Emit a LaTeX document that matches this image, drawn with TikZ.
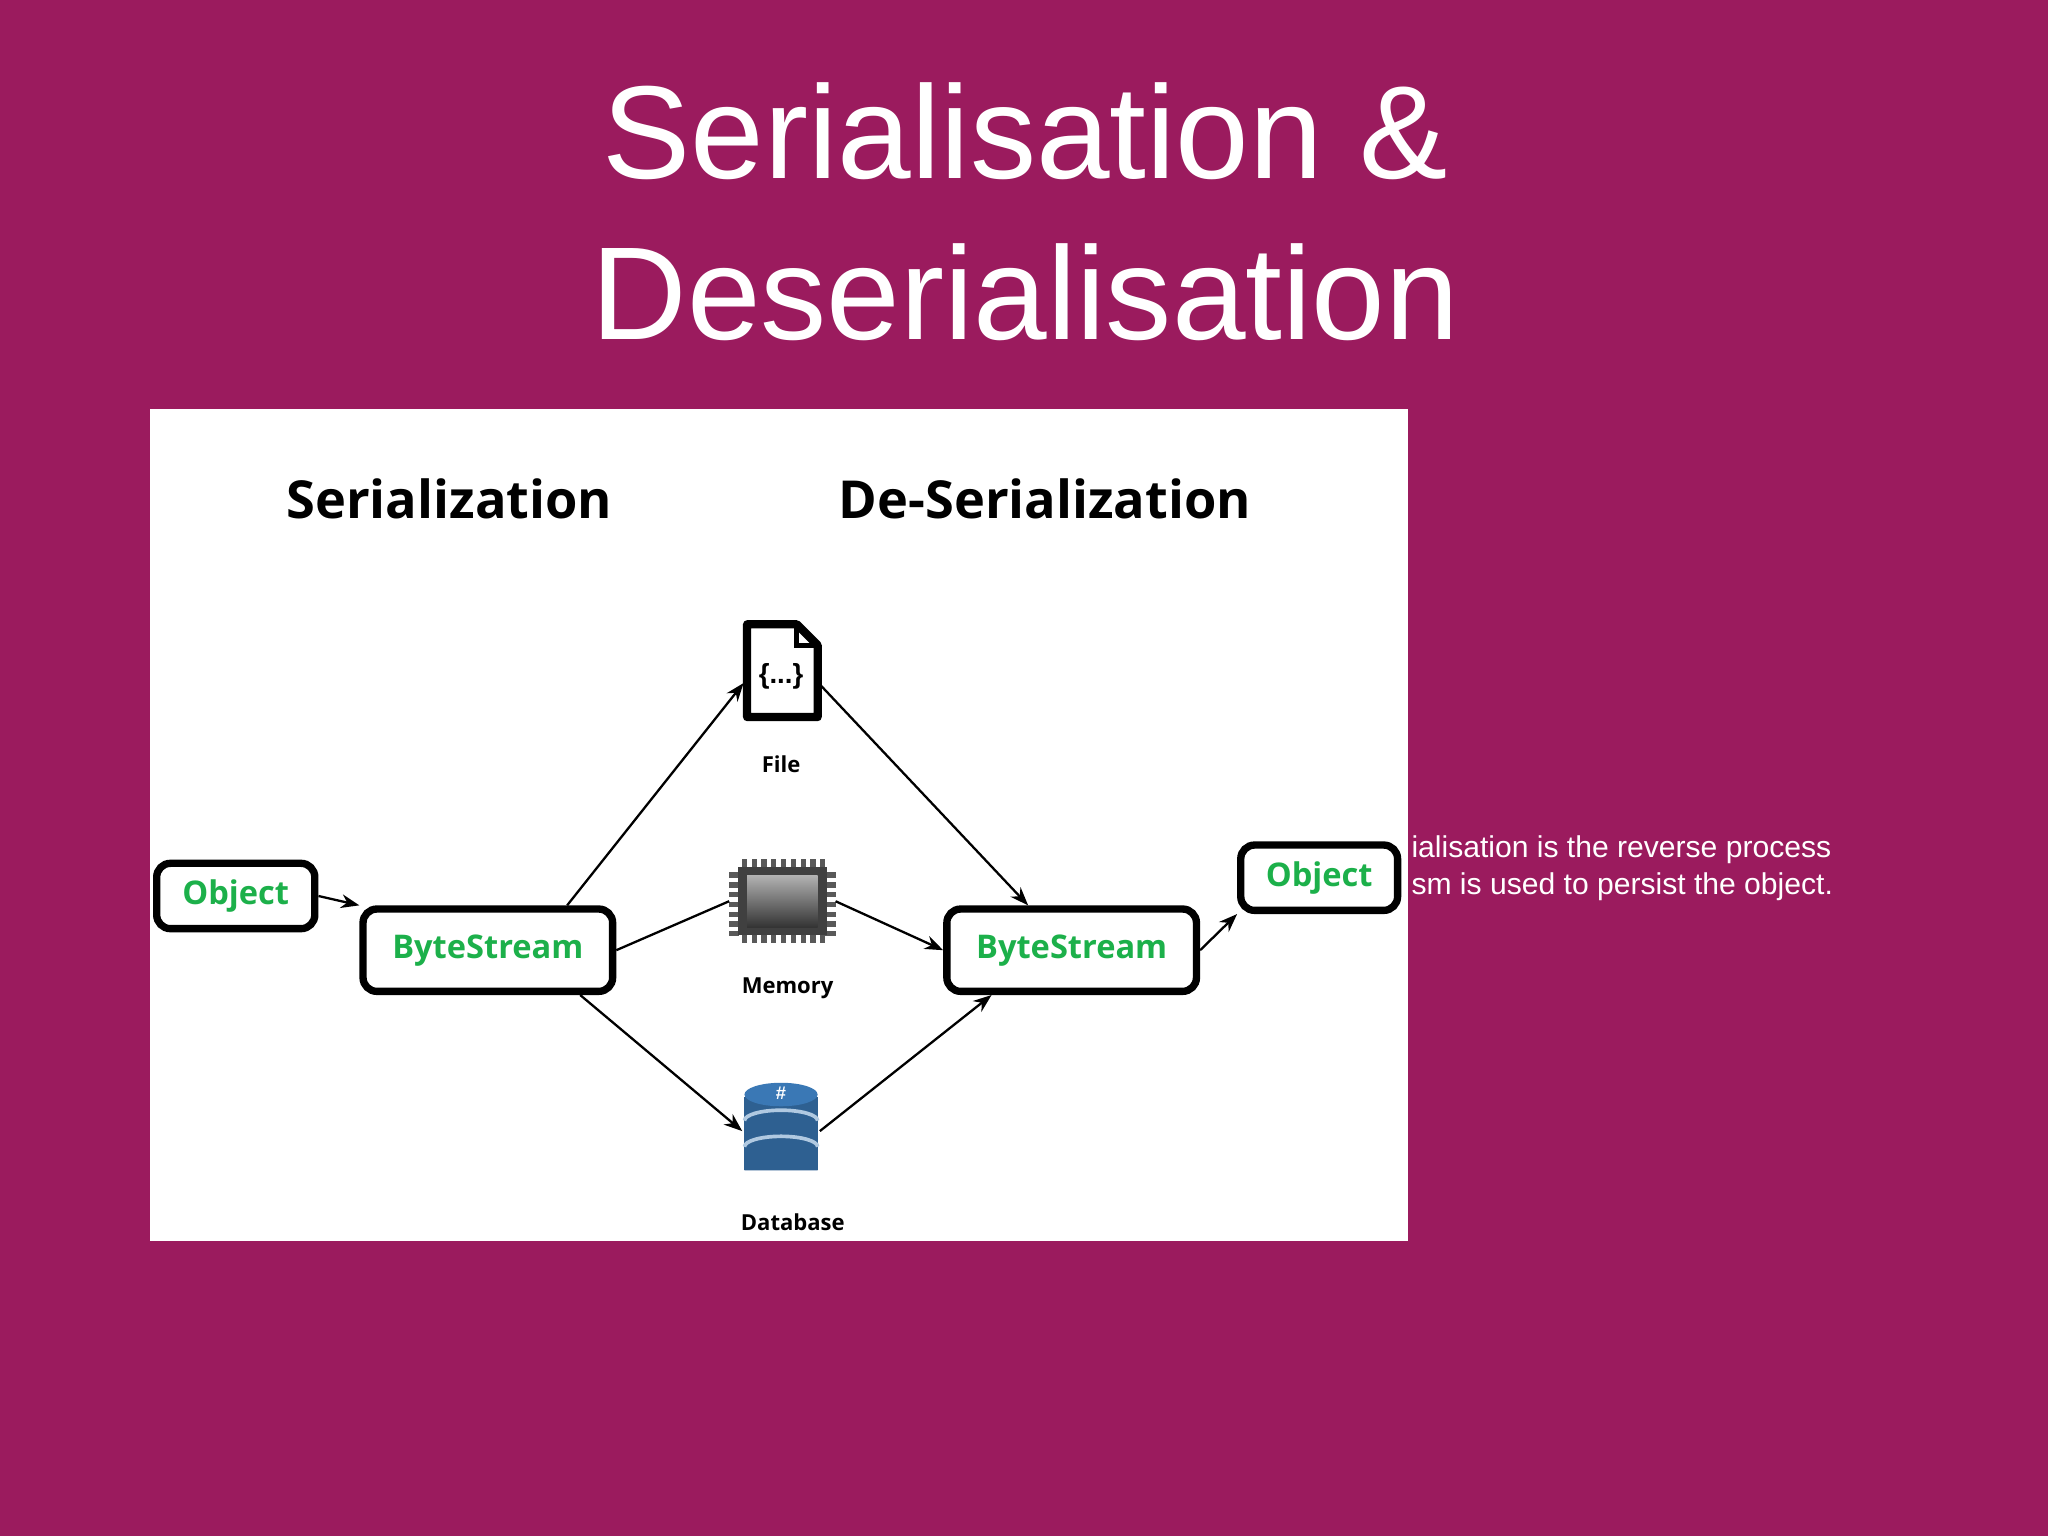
\documentclass[tikz,border=0pt]{standalone}
\usepackage{fontspec}
\usetikzlibrary{arrows.meta}
\setmainfont{Liberation Sans}
\newfontfamily\hdr{Open Sans}
\definecolor{bg}{HTML}{9B1B5E}
\definecolor{grn}{HTML}{1CB04A}
\definecolor{dbb}{HTML}{3A78B5}
\begin{document}
\begin{tikzpicture}[x=0.01cm,y=-0.01cm,
 box/.style={draw=black,line width=1.6pt,rounded corners=3pt,text=grn,font=\hdr\bfseries\fontsize{7.1}{9}\selectfont,inner sep=0},
 lbl/.style={font=\hdr\bfseries\fontsize{4.8}{6}\selectfont},
 arr/.style={-{Stealth[length=4pt,width=3pt]},line width=0.5pt}]
\useasboundingbox (0,0) rectangle (1568,1176);
\fill[bg] (0,0) rectangle (1568,1176);
\node[text=white,font=\fontsize{28.8}{35}\selectfont,align=center] (title) at (785,162) {Serialisation \&\\Deserialisation};
\fill[white] (115,313) rectangle (1078,950);
\node[font=\hdr\bfseries\fontsize{11.4}{14}\selectfont] (h1) at (344,382) {Serialization};
\node[font=\hdr\bfseries\fontsize{11.4}{14}\selectfont] (h2) at (800,382) {De-Serialization};
\node[box,minimum width=1.21cm,minimum height=0.5cm] (o1) at (180.5,686) {Object};
\node[box,minimum width=1.91cm,minimum height=0.63cm] (b1) at (373.5,727.5) {ByteStream};
\node[box,minimum width=1.91cm,minimum height=0.63cm] (b2) at (820.5,727.5) {ByteStream};
\node[box,minimum width=1.2cm,minimum height=0.5cm] (o2) at (1010,672) {Object};
% file icon
\node[minimum width=0.56cm,minimum height=0.74cm,inner sep=0] (file) at (598,513) {};
\draw[line width=1.8pt,line join=round] (572,478) -- (610,478) -- (626,494) -- (626,549) -- (572,549) -- cycle;
\draw[line width=1pt] (610,478) -- (610,494) -- (626,494);
\node[font=\bfseries\fontsize{6}{7}\selectfont] at (598,518) {\{...\}};
\node[lbl] (fl) at (598,585) {File};
% chip
\node[minimum width=0.8cm,minimum height=0.64cm,inner sep=0] (mem) at (599,690) {};
\foreach \i in {0,...,8}{\fill[gray!70!black] (568+\i*7.5,658) rectangle +(4,8);
 \fill[gray!70!black] (568+\i*7.5,714) rectangle +(4,8);}
\foreach \j in {0,...,6}{\fill[gray!70!black] (558,668+\j*7.5) rectangle +(8,4);
 \fill[gray!70!black] (632,668+\j*7.5) rectangle +(8,4);}
\fill[gray!50!black] (565,664) rectangle (633,716);
\shade[top color=gray!60,bottom color=gray!40!black] (572,670) rectangle (626,710);
\node[lbl] (ml) at (603,757) {Memory};
% database
\node[minimum width=0.58cm,minimum height=0.78cm,inner sep=0] (db) at (598,866) {};
\fill[dbb!80!black] (570,840) rectangle (626,896);
\fill[dbb!80!black] (570,896) arc[start angle=180,end angle=360,x radius=28,y radius=8];
\fill[dbb] (598,838) ellipse[x radius=28,y radius=9];
\foreach \yy in {858,878}{\draw[white!60!dbb,line width=0.8pt] (570,\yy) arc[start angle=180,end angle=360,x radius=28,y radius=8];}
\node[text=white,font=\bfseries\fontsize{4}{4}\selectfont] at (598,837) {\#};
\node[lbl] (dl) at (607,936) {Database};
% arrows
\draw[arr] (o1.east) -- (b1.north west);
\draw[arr] ([xshift=1.59cm]b1.north west) -- ([yshift=-0.1cm]file.west);
\draw[line width=0.5pt] (b1.east) -- (mem.west);
\draw[arr] ([xshift=1.69cm]b1.south west) -- (db.west);
\draw[arr] ([yshift=-0.1cm]file.east) -- ([xshift=0.65cm]b2.north west);
\draw[arr] (mem.east) -- (b2.west);
\draw[arr] (db.east) -- ([xshift=0.37cm]b2.south west);
\draw[arr] (b2.east) -- (o2.south west);
\node[text=white,anchor=north west,align=left,font=\fontsize{6.55}{8.2}\selectfont,inner sep=0] (txt) at (1080,639) {ialisation is the reverse process\\sm is used to persist the object.};
\end{tikzpicture}
\end{document}
